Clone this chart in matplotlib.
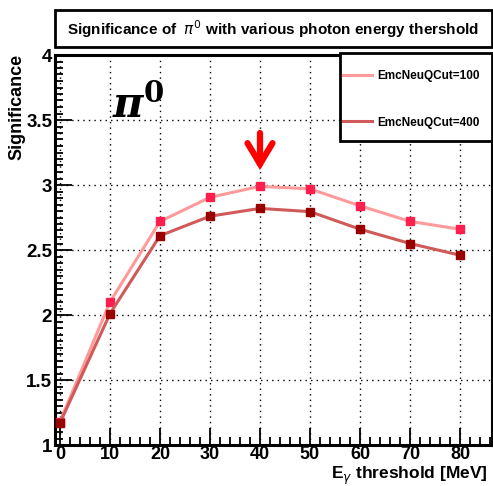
import matplotlib
matplotlib.use("Agg")
import matplotlib.pyplot as plt
from matplotlib.ticker import MultipleLocator, FuncFormatter
from matplotlib.patches import Rectangle

thresholds = [0, 10, 20, 30, 40, 50, 60, 70, 80]
sig_cut100 = [1.18, 2.10, 2.72, 2.905, 2.99, 2.97, 2.84, 2.72, 2.66]
sig_cut400 = [1.17, 2.01, 2.61, 2.76, 2.82, 2.795, 2.66, 2.55, 2.46]
labels = ["EmcNeuQCut=100", "EmcNeuQCut=400"]
title = r"Significance of  $\pi^{0}$ with various photon energy thershold"

plt.rcParams['font.family'] = ['Liberation Sans', 'DejaVu Sans']
W, H = 493, 486
fig = plt.figure(figsize=(W / 100, H / 100), dpi=100)
ax = fig.add_axes([55 / W, (H - 445) / H, 437 / W, 390 / H])

ax.plot(thresholds, sig_cut100, color='#ff9a9a', lw=2.2, marker='s', ms=5.5,
        mfc='#ff1f4f', mec='#ff1f4f', label=labels[0], zorder=3)
ax.plot(thresholds, sig_cut400, color='#d05a5a', lw=2.2, marker='s', ms=5.5,
        mfc='#990000', mec='#990000', label=labels[1], zorder=3)

ax.set_xlim(-1, 86.4)
ax.set_ylim(1, 4)
ax.xaxis.set_major_locator(MultipleLocator(10))
ax.xaxis.set_minor_locator(MultipleLocator(2))
ax.yaxis.set_major_locator(MultipleLocator(0.5))
ax.yaxis.set_minor_locator(MultipleLocator(0.05))
fmt = FuncFormatter(lambda v, p: "%g" % v)
ax.xaxis.set_major_formatter(fmt)
ax.yaxis.set_major_formatter(fmt)
ax.grid(True, which='major', ls=(0, (1, 3)), color='black', lw=1.0)
ax.tick_params(which='both', direction='in', top=False, right=False,
               width=1.3, labelsize=13.5)
ax.tick_params(axis='x', labelsize=13, pad=1)
ax.tick_params(axis='y', pad=2)
ax.tick_params(which='major', length=12)
ax.tick_params(which='minor', length=6)
for lab in ax.get_xticklabels() + ax.get_yticklabels():
    lab.set_fontweight('bold')
for s in ax.spines.values():
    s.set_linewidth(2.2)

# axis titles (ROOT style placement)
fig.text(17 / W, (H - 54) / H, "Significance", rotation=90, ha='center', va='top',
         fontsize=13, fontweight='bold')
fig.text(488 / W, (H - 479) / H, "E$_{\\gamma}$ threshold [MeV]", ha='right',
         va='baseline', fontsize=12.5, fontweight='bold')

# pi0 label
ax.text(0.13, 0.87, r"$\boldsymbol{\pi}^{\mathbf{0}}$", transform=ax.transAxes,
        fontsize=30, family='DejaVu Serif', ha='left', va='center',
        math_fontfamily='dejavuserif')

# arrow
ax.annotate("", xy=(40, 3.115), xytext=(40, 3.4),
            arrowprops=dict(arrowstyle='->,head_length=1.5,head_width=0.9',
                            color='#ff0000', lw=4.5, shrinkA=0, shrinkB=0,
                            joinstyle='miter', capstyle='round'))

# legend
leg = fig.legend(loc='upper left', bbox_to_anchor=(340.5 / W, (H - 68) / H),
                 fontsize=8.5, frameon=False, handlelength=2.5,
                 labelspacing=2.9, borderpad=0.2, handletextpad=0.4,
                 borderaxespad=0)
for t in leg.get_texts():
    t.set_fontweight('bold')
for h in leg.legend_handles:
    h.set_marker('')
fig.patches.append(Rectangle((340 / W, (H - 141) / H), 152 / W, 88 / H,
                             transform=fig.transFigure, facecolor='white',
                             edgecolor='black', lw=2, zorder=2.5))

# title box
fig.patches.append(Rectangle((55 / W, (H - 47) / H), 437 / W, 37 / H,
                             transform=fig.transFigure, fill=False,
                             edgecolor='black', lw=2))
fig.text((55 + 437 / 2) / W, (H - 29) / H, title, ha='center', va='center',
         fontsize=11, fontweight='bold')

fig.savefig("out.png", dpi=100)
